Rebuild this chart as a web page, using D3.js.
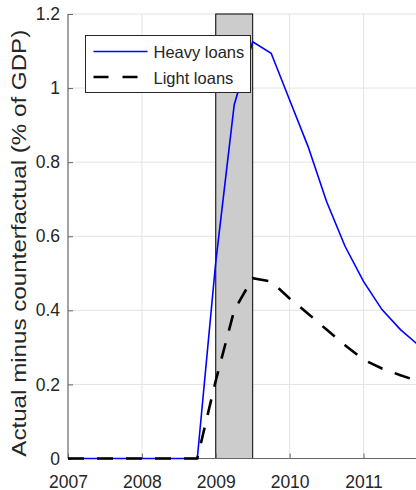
<!DOCTYPE html>
<html>
<head>
<meta charset="utf-8">
<script src="https://cdn.jsdelivr.net/npm/d3@7"></script>
<style>
  body { margin: 0; background: #ffffff; }
  svg { display: block; font-family: "Liberation Sans", Arial, sans-serif; }
  .tickText { fill: #262626; font-size: 17.5px; }
  .legendText { fill: #262626; font-size: 16.5px; }
</style>
</head>
<body>
<div id="chart"></div>
<script>
// Data ===========================================
// quarters shown on the x axis (decimal years)
var quarters = [2007, 2007.25, 2007.5, 2007.75, 2008, 2008.25, 2008.5, 2008.75,
                2009, 2009.25, 2009.5, 2009.75, 2010, 2010.25, 2010.5, 2010.75,
                2011, 2011.25, 2011.5, 2011.75];

// Heavy loans (% of GDP)
var heavyLoans = [0, 0, 0, 0, 0, 0, 0, 0,
                  0.53, 0.955, 1.125, 1.094, 0.968, 0.842, 0.694, 0.573,
                  0.478, 0.402, 0.348, 0.305];

// Light loans (% of GDP)
var lightLoans = [0, 0, 0, 0, 0, 0, 0, 0,
                  0.21, 0.40, 0.487, 0.478, 0.432, 0.391, 0.348, 0.306,
                  0.267, 0.243, 0.225, 0.208];

// shaded period
var recession = [2009, 2009.5];

// tick labels
var xTicks = [2007, 2008, 2009, 2010, 2011];
var yTicks = [0, 0.2, 0.4, 0.6, 0.8, 1, 1.2];

var seriesNames = ["Heavy loans", "Light loans"];

// Canvas =========================================
var width = 416;
var height = 490;

var plotLeft = 68;
var plotTop = 14;
var plotBottom = 458.5;
var yearWidth = 73.875;

var svg = d3.select("#chart")
    .append("svg")
    .attr("width", width)
    .attr("height", height);

// Scales - the plot runs past the right edge and gets cropped
var xScale = d3.scaleLinear()
    .domain([2007, 2012])
    .range([plotLeft, plotLeft + 5 * yearWidth]);

var yScale = d3.scaleLinear()
    .domain([0, 1.2])
    .range([plotBottom, plotTop]);

// Grid lines ______________________________________
svg.append("g")
    .selectAll("line")
    .data(xTicks.slice(1))
    .enter()
    .append("line")
    .attr("x1", function(d) { return xScale(d); })
    .attr("x2", function(d) { return xScale(d); })
    .attr("y1", plotTop)
    .attr("y2", plotBottom)
    .attr("stroke", "#e3e3e3")
    .attr("stroke-width", 1);

svg.append("g")
    .selectAll("line")
    .data(yTicks.slice(1))
    .enter()
    .append("line")
    .attr("x1", plotLeft)
    .attr("x2", width + 30)
    .attr("y1", function(d) { return yScale(d); })
    .attr("y2", function(d) { return yScale(d); })
    .attr("stroke", "#e3e3e3")
    .attr("stroke-width", 1);

// Shaded period ___________________________________
svg.append("rect")
    .attr("x", xScale(recession[0]))
    .attr("y", yScale(1.2))
    .attr("width", xScale(recession[1]) - xScale(recession[0]))
    .attr("height", yScale(0) - yScale(1.2))
    .attr("fill", "#cccccc")
    .attr("stroke", "#000000")
    .attr("stroke-width", 1);

// Axes ____________________________________________
var xAxis = d3.axisBottom(xScale)
    .tickValues(xTicks)
    .tickSize(-5)
    .tickFormat(d3.format("d"));

var yAxis = d3.axisLeft(yScale)
    .tickValues(yTicks)
    .tickSize(-5)
    .tickFormat(function(d) { return d3.format("")(d); });

var gx = svg.append("g")
    .attr("class", "xAxis")
    .attr("transform", "translate(0," + plotBottom + ")")
    .call(xAxis);

var gy = svg.append("g")
    .attr("class", "yAxis")
    .attr("transform", "translate(" + plotLeft + ",0)")
    .call(yAxis);

// restyle the axes to look like the source figure
[gx, gy].forEach(function(g) {
  g.select(".domain").attr("stroke", "#666666").attr("stroke-width", 1.2);
  g.selectAll(".tick line").attr("stroke", "#666666");
  g.selectAll(".tick text")
    .attr("class", "tickText")
    .attr("font-family", null)
    .attr("font-size", null);
});
gx.select(".domain").attr("d", "M" + plotLeft + ",0H" + (width + 30));
gy.select(".domain").attr("d", "M0," + plotBottom + "V" + plotTop);
gx.selectAll(".tick text").attr("y", 17).attr("dy", "0.71em");
gy.selectAll(".tick text").attr("x", -8);

// Lines ___________________________________________
var line = d3.line()
    .x(function(d) { return xScale(d[0]); })
    .y(function(d) { return yScale(d[1]); });

svg.append("path")
    .datum(d3.zip(quarters, heavyLoans))
    .attr("d", line)
    .attr("fill", "none")
    .attr("stroke", "#0000ff")
    .attr("stroke-width", 1.6);

svg.append("path")
    .datum(d3.zip(quarters, lightLoans))
    .attr("d", line)
    .attr("fill", "none")
    .attr("stroke", "#000000")
    .attr("stroke-width", 2.6)
    .attr("stroke-dasharray", "16,13");

// Y label _________________________________________
svg.append("text")
    .attr("transform", "translate(26," + ((plotTop + plotBottom) / 2 + 7) + ")rotate(-90)")
    .attr("text-anchor", "middle")
    .attr("fill", "#262626")
    .attr("font-size", "21px")
    .attr("textLength", 427)
    .attr("lengthAdjust", "spacingAndGlyphs")
    .text("Actual minus counterfactual (% of GDP)");

// Legend __________________________________________
var legend = svg.append("g").attr("transform", "translate(85.5,35.5)");

legend.append("rect")
    .attr("width", 165)
    .attr("height", 57)
    .attr("fill", "#ffffff")
    .attr("stroke", "#262626")
    .attr("stroke-width", 1);

var legendStyles = [
  { color: "#0000ff", w: 1.6, dash: null },
  { color: "#000000", w: 2.6, dash: "15,14" }
];

seriesNames.forEach(function(name, i) {
  var ly = 16 + i * 25.5;
  legend.append("line")
      .attr("x1", 8)
      .attr("x2", 62)
      .attr("y1", ly)
      .attr("y2", ly)
      .attr("stroke", legendStyles[i].color)
      .attr("stroke-width", legendStyles[i].w)
      .attr("stroke-dasharray", legendStyles[i].dash);
  legend.append("text")
      .attr("class", "legendText")
      .attr("x", 68)
      .attr("y", ly + 6.5)
      .text(name);
});
</script>
</body>
</html>
